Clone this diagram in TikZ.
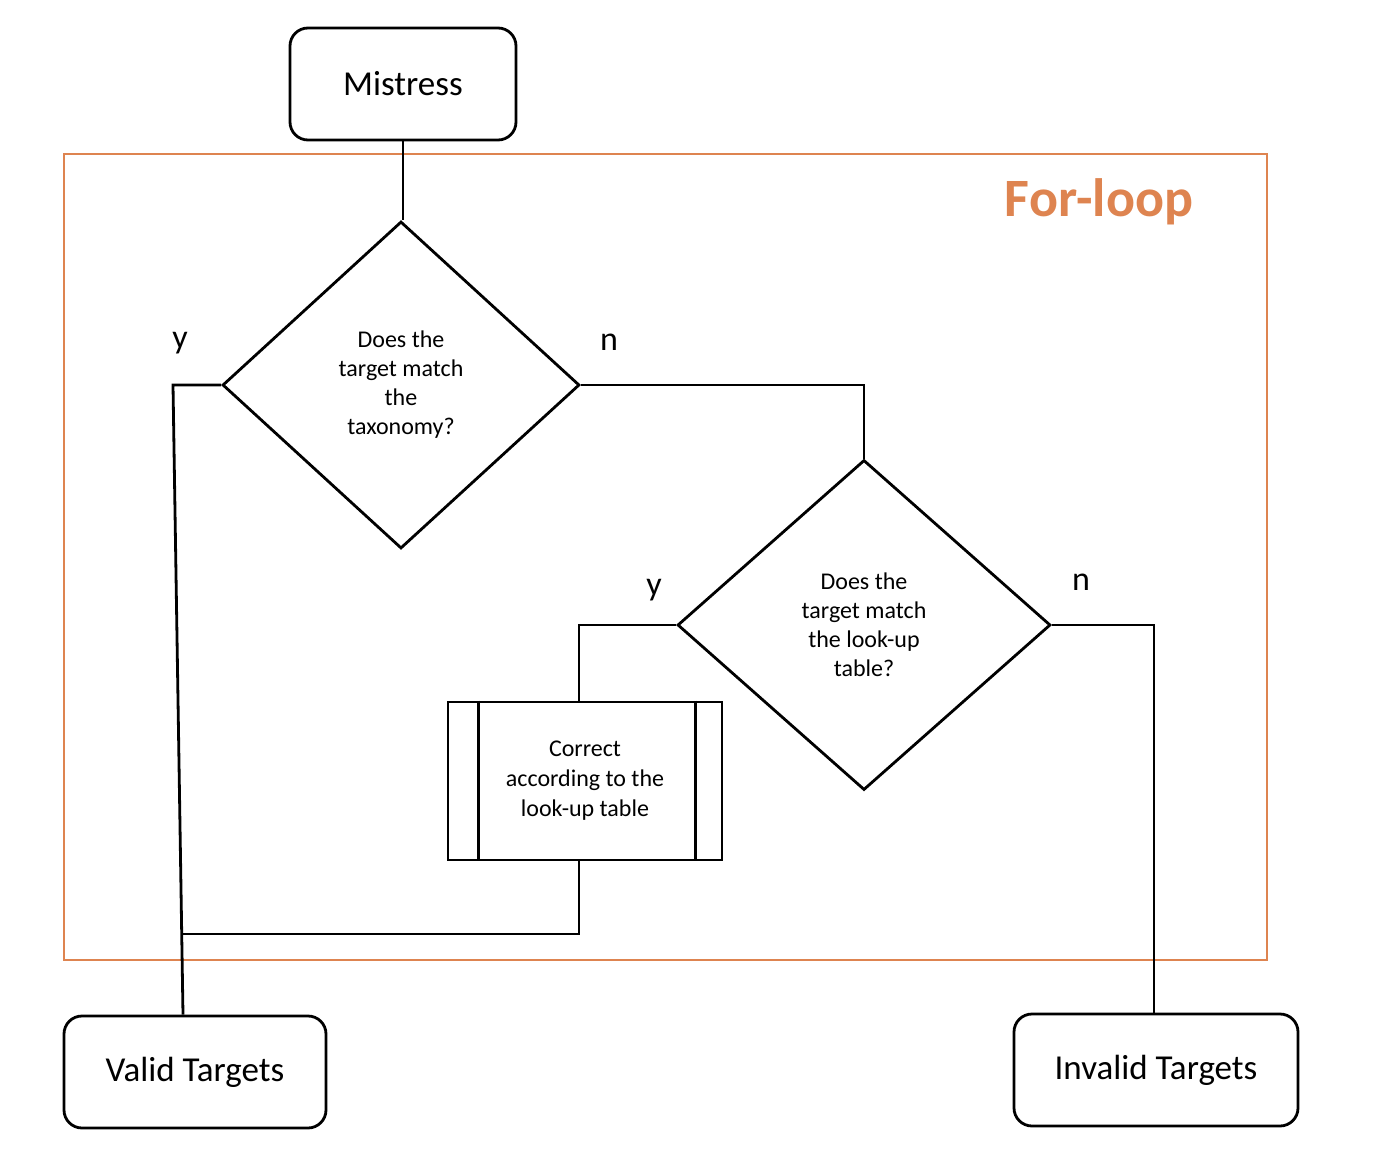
\documentclass[tikz,border=0pt]{standalone}
\usepackage{fontspec}
\setmainfont{Carlito}
\usetikzlibrary{shapes.geometric}
\definecolor{loopcol}{RGB}{222,132,80}
\begin{document}
\begin{tikzpicture}[x=1pt,y=-1pt,line width=2.8pt,
	  term/.style={draw,rounded corners=18pt,font=\fontsize{35}{42}\selectfont},
	  query/.style={draw,diamond,align=center,inner sep=0pt,font=\fontsize{24}{29}\selectfont},
	  proc/.style={draw,align=center,font=\fontsize{24}{30}\selectfont},
	  lbl/.style={font=\fontsize{34}{40}\selectfont}]
	  \useasboundingbox (0,0) rectangle (1384,1158);

	  % loop frame
	  \draw[loopcol,line width=2.5pt] (64,154) rectangle (1267,960);
	  \node[text=loopcol,font=\fontsize{54}{60}\bfseries] (title) at (1099,202) {For-loop};

	  \node[term,minimum width=226pt,minimum height=112pt] (mis) at (403,84) {Mistress};
	  \node[query,minimum width=357pt,minimum height=327pt] (tax) at (401,385)
	    {Does the\\target match\\the\\taxonomy?};
	  \node[query,minimum width=373pt,minimum height=330pt] (lut) at (864,625)
	    {Does the\\target match\\the look-up\\table?};
	  \node[proc,minimum width=274pt,minimum height=158pt] (fix) at (585,781)
	    {Correct\\according to the\\look-up table};
	  \draw ([xshift=32pt]fix.north west) -- ([xshift=32pt]fix.south west);
	  \draw ([xshift=-28pt]fix.north east) -- ([xshift=-28pt]fix.south east);
	  \node[term,minimum width=262pt,minimum height=112pt] (valid) at (195,1072) {Valid Targets};
	  \node[term,minimum width=284pt,minimum height=112pt] (inval) at (1156,1070) {Invalid Targets};

	  \node[lbl] (y1) at (180,343) {y};
	  \node[lbl] (n1) at (609,342) {n};
	  \node[lbl] (y2) at (654,590) {y};
	  \node[lbl] (n2) at (1081,582) {n};

	  \coordinate (ybend) at (173,385);
	  \coordinate (merge) at (181,934);

	  \draw (mis.south) -- (mis.south |- tax.north);
	  \draw (tax.west) -- (ybend) -- ([xshift=-12pt]valid.north);
	  \draw (tax.east) -| (lut.north);
	  \draw (lut.west) -| ([xshift=-6pt]fix.north);
	  \draw ([xshift=-6pt]fix.south) |- (merge);
	  \draw (lut.east) -| ([xshift=-2pt]inval.north);
	\end{tikzpicture}
\end{document}
